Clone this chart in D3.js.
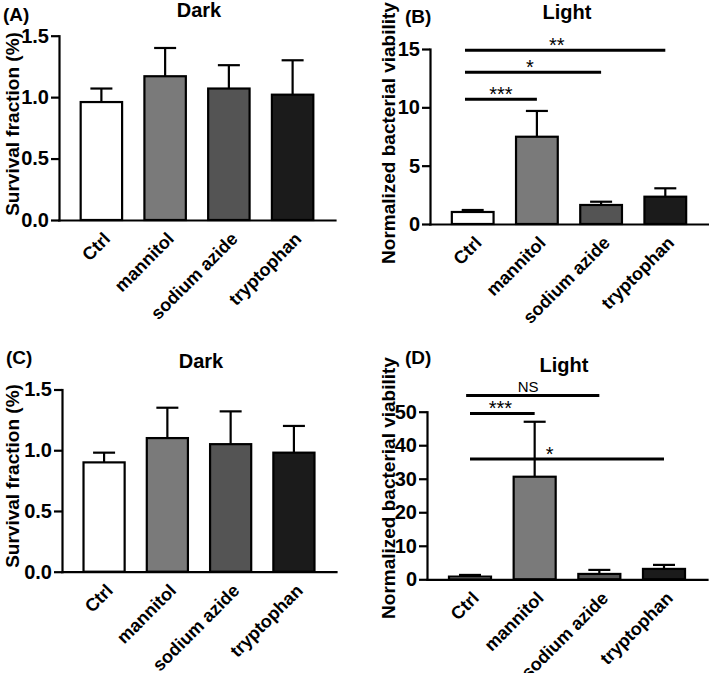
<!DOCTYPE html>
<html>
<head>
<meta charset="utf-8">
<script src="https://cdn.jsdelivr.net/npm/d3@7"></script>
<style>
  body { margin: 0; background: #fff; }
  svg { display: block; font-family: Arial, "Liberation Sans", sans-serif; }
</style>
</head>
<body>
<svg id="fig" width="709" height="673"></svg>
<script>
// ── Data ─────────────────────────────────────────────
const categories = ['Ctrl', 'mannitol', 'sodium azide', 'tryptophan'];

const darkA     = [0.96, 1.17, 1.07, 1.02];
const darkAErr  = [0.11, 0.23, 0.19, 0.28];
const lightB    = [1.03, 7.48, 1.63, 2.34];
const lightBErr = [0.17, 2.21, 0.28, 0.72];
const darkC     = [0.90, 1.10, 1.05, 0.98];
const darkCErr  = [0.08, 0.25, 0.27, 0.22];
const lightD    = [0.8, 30.6, 1.6, 3.1];
const lightDErr = [0.5, 16.4, 1.2, 1.2];

const darkTicks   = [0, 0.5, 1.0, 1.5];
const lightBTicks = [0, 5, 10, 15];
const lightDTicks = [0, 10, 20, 30, 40, 50];

// significance lines: [from index, to index, level, label, label at index]
const sigB = [[-0.12, 1, 10.7, '***', 0.44], [-0.12, 2, 13.0, '*', 0.89], [-0.12, 3, 14.9, '**', 1.31]];
const sigD = [[-0.06, 2, 54.8, 'NS', 0.9], [0, 1, 49.5, '***', 0.47], [0, 3, 35.9, '*', 1.23]];

const fills = ['#ffffff', '#7a7a7a', '#545454', '#1b1b1b'];

// ── Panel layout ─────────────────────────────────────
const svg = d3.select('#fig');

const panels = [
  { tag: '(A)', title: 'Dark',  ylab: 'Survival fraction (%)', mean: darkA, err: darkAErr,
    domain: [0, 1.5], ticks: darkTicks, fmt: d3.format('.1f'), sig: [],
    left: 59, right: 335, top: 35.7, bottom: 220,
    tagXY: [3, 21], titleXY: [199, 17], ylabXY: [19, 124] },
  { tag: '(B)', title: 'Light', ylab: 'Normalized bacterial viability', mean: lightB, err: lightBErr,
    domain: [0, 15], ticks: lightBTicks, fmt: d3.format('d'), sig: sigB,
    left: 430, right: 708, top: 49, bottom: 224,
    tagXY: [405, 23], titleXY: [567, 19], ylabXY: [395, 133] },
  { tag: '(C)', title: 'Dark',  ylab: 'Survival fraction (%)', mean: darkC, err: darkCErr,
    domain: [0, 1.5], ticks: darkTicks, fmt: d3.format('.1f'), sig: [],
    left: 62, right: 336, top: 389.5, bottom: 571.7,
    tagXY: [6, 364], titleXY: [201, 368], ylabXY: [19, 476] },
  { tag: '(D)', title: 'Light', ylab: 'Normalized bacterial viability', mean: lightD, err: lightDErr,
    domain: [0, 50], ticks: lightDTicks, fmt: d3.format('d'), sig: sigD,
    left: 427, right: 707, top: 411.7, bottom: 579.3,
    tagXY: [405, 364], titleXY: [564, 372], ylabXY: [395, 488] }
];

panels.forEach(drawPanel);

function drawPanel(p) {
  const g = svg.append('g');

  const x = d3.scaleBand().domain(categories)
    .range([p.left, p.right]).paddingInner(0.35).paddingOuter(0.34);
  const y = d3.scaleLinear().domain(p.domain).range([p.bottom, p.top]);
  const bw = x.bandwidth();
  const cx = i => x(categories[0]) + bw / 2 + i * x.step();

  // bars
  g.append('g').selectAll('rect').data(p.mean).join('rect')
    .attr('x', (d, i) => x(categories[i]))
    .attr('y', d => y(d))
    .attr('width', bw)
    .attr('height', d => p.bottom - y(d))
    .attr('fill', (d, i) => fills[i])
    .attr('stroke', '#000')
    .attr('stroke-width', 2.2);

  // error bars (upper only)
  const eb = g.append('g').attr('stroke', '#000').attr('stroke-width', 2.2)
    .selectAll('g').data(p.mean).join('g');
  eb.append('line')
    .attr('x1', (d, i) => cx(i)).attr('x2', (d, i) => cx(i))
    .attr('y1', d => y(d)).attr('y2', (d, i) => y(d + p.err[i]));
  eb.append('line')
    .attr('x1', (d, i) => cx(i) - 11).attr('x2', (d, i) => cx(i) + 11)
    .attr('y1', (d, i) => y(d + p.err[i])).attr('y2', (d, i) => y(d + p.err[i]));

  // y axis
  const ya = g.append('g').attr('transform', `translate(${p.left},0)`)
    .call(d3.axisLeft(y).tickValues(p.ticks).tickFormat(p.fmt)
      .tickSize(8).tickSizeOuter(0).tickPadding(2));
  ya.select('.domain').attr('stroke-width', 2.2).attr('stroke-linecap', 'square');
  ya.selectAll('.tick line').attr('stroke-width', 2.2);
  ya.selectAll('.tick text')
    .attr('font-size', 20).attr('font-weight', 'bold').attr('fill', '#000')
    .attr('font-family', 'Arial, "Liberation Sans", sans-serif');

  // x axis
  const xa = g.append('g').attr('transform', `translate(0,${p.bottom})`)
    .call(d3.axisBottom(x).tickSize(0).tickSizeOuter(0));
  xa.select('.domain').attr('stroke-width', 2.2).attr('stroke-linecap', 'square');
  xa.selectAll('.tick text')
    .attr('y', 0).attr('dy', 0)
    .attr('transform', 'translate(10,20) rotate(-45)')
    .attr('text-anchor', 'end')
    .attr('font-size', 18).attr('font-weight', 'bold').attr('fill', '#000')
    .attr('font-family', 'Arial, "Liberation Sans", sans-serif');

  // significance lines
  const sg = g.append('g');
  p.sig.forEach(([a, b, lvl, lab, at]) => {
    sg.append('line')
      .attr('x1', cx(a)).attr('x2', cx(b))
      .attr('y1', y(lvl)).attr('y2', y(lvl))
      .attr('stroke', '#000').attr('stroke-width', 3);
    const isNS = lab === 'NS';
    sg.append('text')
      .attr('x', cx(at)).attr('y', y(lvl) + (isNS ? -4 : 2))
      .attr('text-anchor', 'middle')
      .attr('font-size', isNS ? 15 : 20)
      .text(lab);
  });

  // labels
  g.append('text')
    .attr('transform', `translate(${p.ylabXY[0]},${p.ylabXY[1]}) rotate(-90)`)
    .attr('text-anchor', 'middle')
    .attr('font-size', 19).attr('font-weight', 'bold')
    .text(p.ylab);
  g.append('text')
    .attr('x', p.titleXY[0]).attr('y', p.titleXY[1])
    .attr('text-anchor', 'middle')
    .attr('font-size', 20).attr('font-weight', 'bold')
    .text(p.title);
  g.append('text')
    .attr('x', p.tagXY[0]).attr('y', p.tagXY[1])
    .attr('font-size', 19).attr('font-weight', 'bold')
    .text(p.tag);
}
</script>
</body>
</html>
